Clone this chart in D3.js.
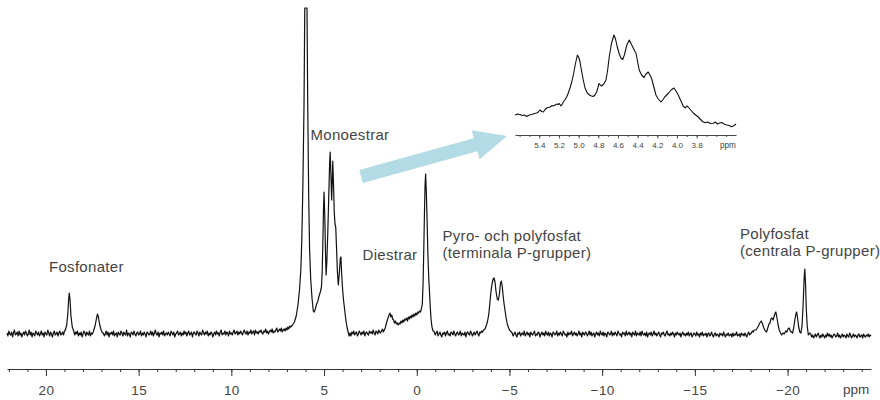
<!DOCTYPE html>
<html>
<head>
<meta charset="utf-8">
<script src="https://cdn.jsdelivr.net/npm/d3@7/dist/d3.min.js"></script>
<style>
  html, body { margin: 0; padding: 0; background: #fff; }
  svg { display: block; }
</style>
</head>
<body>
<svg id="chart" width="880" height="400"></svg>
<script>
// ---------------- DATA ----------------
// Signal regions of the main 31P spectrum: [ppm, intensity] (clipped at 326)
const peakPoints = [
[18.95,4],[18.88,9],[18.82,20],[18.77,36],[18.74,41],[18.70,34],[18.65,18],[18.58,7],[18.5,3],
[17.42,4],[17.35,8],[17.28,15],[17.22,20],[17.17,17],[17.1,9],[17.02,4],[16.95,1],
[6.7,9],[6.6,12],[6.5,18],[6.4,30],[6.32,45],[6.25,65],[6.2,94],[6.14,150],[6.08,230],[6.04,326],[5.92,326],[5.88,230],[5.83,140],[5.78,85],[5.72,55],[5.65,36],[5.58,23],[5.53,22],
[5.47,25],[5.4,30],[5.33,33],[5.27,38],[5.2,42],[5.14,47],[5.1,62],[5.06,95],[5.03,125],[5.0,142],[4.96,118],[4.92,80],[4.89,59],[4.85,72],[4.8,100],[4.75,135],[4.7,170],[4.67,182],[4.63,160],[4.59,134],[4.56,150],[4.53,173],[4.49,150],[4.45,122],[4.41,110],[4.37,107],[4.33,88],[4.28,62],[4.23,49],[4.17,62],[4.12,76],[4.09,77],[4.05,60],[4.0,45],[3.95,34],[3.9,26],[3.85,18],[3.8,11],[3.75,6],[3.7,2],[3.65,-2],
[1.62,12],[1.55,16],[1.5,19],[1.44,21],[1.4,17],[1.35,19],[1.3,15],[1.25,14],[1.2,11],[1.15,13],[1.1,10],[1.05,11],[1.0,9],[0.95,11],[0.9,10],[0.85,13],[0.8,11],[0.75,14],[0.7,12],[0.65,15],[0.6,14],[0.55,16],[0.5,13],[0.45,17],[0.4,15],[0.35,18],[0.3,16],[0.25,19],[0.2,17],[0.15,20],[0.1,18],[0.05,21],[0.0,19],[-0.05,22],[-0.1,21],[-0.15,23],[-0.2,22],[-0.25,25],
[-0.3,30],[-0.34,50],[-0.38,85],[-0.42,125],[-0.45,150],[-0.48,160],[-0.51,145],[-0.55,120],[-0.6,80],[-0.65,55],[-0.68,45],[-0.72,30],[-0.77,15],[-0.82,7],[-0.88,3],
[-3.68,5],[-3.76,9],[-3.82,13],[-3.88,19],[-3.94,30],[-4.0,42],[-4.06,50],[-4.12,55],[-4.17,56],[-4.22,52],[-4.28,42],[-4.34,35],[-4.4,34],[-4.46,40],[-4.51,50],[-4.56,53],[-4.61,48],[-4.66,38],[-4.71,30],[-4.76,24],[-4.82,16],[-4.88,10],[-4.94,7],[-5.0,4],[-5.1,2],
[-18.3,4],[-18.4,7],[-18.5,11],[-18.58,13],[-18.65,10],[-18.72,6],[-18.8,3],[-18.87,2],[-18.93,6],[-19.0,10],[-19.05,11],[-19.1,15],[-19.16,16],[-19.22,14],[-19.28,18],[-19.33,21],[-19.37,22],[-19.42,17],[-19.48,10],[-19.55,4],[-19.62,1],[-19.68,-1],[-19.75,1],[-19.82,0],[-19.9,3],[-19.96,2],[-20.02,5],[-20.09,6],[-20.15,3],[-20.21,2],[-20.27,1],[-20.33,6],[-20.39,14],[-20.45,20],[-20.49,22],[-20.54,16],[-20.6,7],[-20.66,2],[-20.72,1],[-20.78,8],[-20.84,30],[-20.9,58],[-20.93,65],[-20.97,50],[-21.01,25],[-21.06,8],[-21.12,-1],[-21.2,1]
];

// Baseline (noise) stretches, read every 0.05 ppm starting at "from"
const baselineStep = 0.05;
const baselineFrom = [22.1, 18.45, 16.9, 3.6, -0.95, -5.15, -21.25];
const baselineA = [1,-2,3,0,-1,2,-3,1,4,-1,0,2,-2,3,-1,1,-3,0,2,-1,3,1,-2,0,4,-1,2,-3,1,0,-2,3,1,-1,2,-2,0,3,-1,1,-3,2,0,-1,4,1,-2,2,0,-3,1,3,-1,0,2,-2,1,3,-1,0,2,-1,3];
const baselineB = [-1,2,0,3,-2,1,-1,2,-3,0,3,1,-2,2,0,-1,3,-2,1,0,2];
const baselineC = [
1,-2,0,3,-1,2,-3,1,0,2, -1,3,-2,0,1,-3,2,0,-1,3, 1,-2,2,0,-1,4,-2,1,0,-3, 2,1,-1,3,0,-2,1,2,-1,0,
3,-2,1,-1,2,0,-3,2,1,-1, 0,3,-1,2,-2,1,4,0,-1,2, -3,1,0,2,-1,3,-2,0,1,-1, 2,0,-2,3,1,-1,2,-3,0,1,
3,-1,0,2,-2,1,-1,3,0,2, -2,1,3,-1,0,2,-3,1,2,0, -1,3,1,-2,2,0,-1,4,1,-1, 2,0,3,-2,1,-1,2,1,-3,0,
2,-1,3,0,1,-2,2,4,-1,1, 0,3,-1,2,1,-2,3,0,1,-1, 2,4,0,1,3,-1,2,0,3,1, -1,2,4,1,0,3,-1,2,1,4,
0,2,3,-1,4,1,2,0,3,2, 4,1,0,3,2,5,1,3,0,2, 4,2,5,1,3,2,4,6,2,3, 5,3,6,2,4,5,3,6,4,7, 5,8,7];
const baselineD = [1,-2,2,0,3,-1,1,2,-2,0,3,1,-1,2,0,3,-2,1,2,0,-1,3,1,2,0,4,1,-1,3,2,0,4,2,1,3,5,2,4,6];
const baselineE = [2,-1,1,3,-2,0,2,-1,-3,1,0,2,-2,1,3,-1,0,-2,2,1,-1,3,0,-2,1,2,-1,0,3,-2,1,0,-1,2,-3,1,2,0,-1,3,1,-2,0,2,-1,1,3,0,-2,2,1,3,2,4];
const baselineF = [
1,-2,0,2,-1,-3,1,0,2,-2, 0,1,-1,3,-2,0,2,-1,1,-3, 2,0,-1,1,3,-2,0,-1,2,1, -3,0,2,-1,1,-2,3,0,-1,2,
-2,1,0,-3,2,1,-1,0,3,-2, 1,-1,2,0,-2,3,1,-1,0,-3, 2,-1,1,0,3,-2,0,2,-1,1, -2,0,3,-1,1,-3,2,0,-1,2,
1,-2,0,3,-1,2,-2,0,1,-3, 0,2,-1,1,-2,3,0,-1,2,-2, 1,0,-3,2,1,-1,0,3,-2,1, -1,2,0,-2,3,1,-1,0,-3,2,
0,1,-2,3,-1,0,2,-1,1,-3, 2,0,-1,3,-2,1,0,-1,2,-2, 3,0,-1,1,-2,2,-3,0,1,-1, 2,-2,0,3,-1,1,-2,0,2,-1,
-3,1,0,2,-1,-2,1,3,-1,0, -2,1,-1,2,0,-3,1,-1,2,0, -1,1,-3,0,2,-1,0,-2,1,-1, 2,-2,0,1,-3,-1,1,0,-2,2,
-1,0,-3,1,-1,2,-2,0,-1,1, -3,0,1,-2,-1,2,-1,-3,0,1, -2,0,-1,-3,1,-1,0,-2,2,-1, -3,0,-1,1,-2,-1,0,-3,1,-2,
0,-1,2,-2,-1,0,-3,1,-1,0, -2,1,-1,-3,0,2,-1,0,1,3, 2,4];
const baselineG = [0,-3,-1,-4,-2,0,-3,-1,1,-2,-4,-1,-3,0,-2,-4,-1,-3,1,-2,0,-3,-1,-4,-2,0,-1,-3,-2,1,-3,-1,-4,-2,0,-3,-1,-2,-4,0,-2,-3,1,-1,-4,-2,0,-3,-1,-2,-4,-1,0,-3,-2,-1,-4,0,-2,-3,-1,-2,0,-3,-1,-2];

// Inset (monoester region expanded): [ppm, intensity]
const inset = [
[5.647,20],[5.62,21],[5.596,20.5],[5.57,19.5],[5.55,20],[5.528,18.5],[5.5,20],[5.477,20.5],[5.45,21.5],[5.426,22],[5.41,23],[5.393,25],[5.375,23.5],[5.359,23],[5.34,25.5],[5.325,27],[5.309,27.5],[5.29,28],[5.27,29.5],[5.258,29],[5.24,30],[5.22,31],[5.207,30.5],[5.195,31.5],[5.18,29],[5.165,31],[5.156,33],[5.14,35],[5.122,38],[5.105,42],[5.088,47],[5.07,53],[5.054,60],[5.035,70],[5.013,80],[5.0,78],[4.986,73],[4.97,64],[4.953,55],[4.935,47],[4.912,42],[4.89,40],[4.87,39],[4.851,38.5],[4.835,40],[4.817,43],[4.805,47],[4.793,51.5],[4.78,50],[4.766,49],[4.745,51],[4.722,55],[4.705,65],[4.689,78],[4.665,92],[4.641,100],[4.625,96],[4.607,88],[4.59,82],[4.57,77],[4.552,75.5],[4.535,80],[4.51,90],[4.485,95],[4.465,91],[4.445,87],[4.43,84],[4.417,82],[4.40,73],[4.384,65],[4.36,60],[4.336,57.5],[4.315,61],[4.292,63],[4.275,60],[4.258,56.5],[4.235,48],[4.214,40],[4.19,36],[4.163,33],[4.145,35],[4.125,38],[4.105,40],[4.085,42],[4.06,45],[4.031,47],[4.01,44],[3.987,40],[3.96,34],[3.937,29],[3.915,27],[3.9,29],[3.886,28],[3.86,25],[3.835,22],[3.81,20],[3.784,18],[3.76,15.5],[3.74,13.5],[3.716,12.3],[3.69,13],[3.66,11.5],[3.632,11.7],[3.61,13],[3.59,11],[3.565,12],[3.546,12.5],[3.52,11],[3.496,10],[3.47,9.5],[3.445,8.3],[3.42,9.5],[3.40,11]
];

const mainMinorTicks = d3.range(22, -25, -1);
const mainMajorTicks = [20, 15, 10, 5, 0, -5, -10, -15, -20];
const insetMinorTicks = d3.range(56, 34, -1).map(v => v / 10);
const insetMajorTicks = [5.4, 5.2, 5.0, 4.8, 4.6, 4.4, 4.2, 4.0, 3.8];
const axisUnit = "ppm";
const peakLabels = [
  ["Fosfonater"],
  ["Monoestrar"],
  ["Diestrar"],
  ["Pyro- och polyfosfat", "(terminala P-grupper)"],
  ["Polyfosfat", "(centrala P-grupper)"]
];

// ---------------- ASSEMBLE ----------------
const baselineSets = [baselineA, baselineB, baselineC, baselineD, baselineE, baselineF, baselineG];
const spectrum = peakPoints.slice();
baselineSets.forEach((vals, k) => {
  vals.forEach((v, i) => spectrum.push([+(baselineFrom[k] - i * baselineStep).toFixed(3), v]));
});
spectrum.sort((a, b) => b[0] - a[0]);

// ---------------- LAYOUT ----------------
const svg = d3.select("#chart");
const FONT = "'Liberation Sans', Arial, Helvetica, sans-serif";
const TEXT = "#444";

const x = d3.scaleLinear().domain([22.1, -24.5]).range([7, 871]);
const y = d3.scaleLinear().domain([0, 326]).range([334, 8]);
const axisY = 369;

svg.append("path")
  .datum(spectrum)
  .attr("fill", "none")
  .attr("stroke", "#111")
  .attr("stroke-width", 1.2)
  .attr("stroke-linejoin", "round")
  .attr("d", d3.line().x(d => x(d[0])).y(d => y(d[1])));

// main axis
const gMinor = svg.append("g").attr("transform", `translate(0,${axisY})`)
  .call(d3.axisBottom(x).tickValues(mainMinorTicks).tickSize(3).tickSizeOuter(0).tickFormat(""));
const gMajor = svg.append("g").attr("transform", `translate(0,${axisY})`)
  .call(d3.axisBottom(x).tickValues(mainMajorTicks).tickSize(7).tickSizeOuter(0).tickPadding(9).tickFormat(d3.format("d")));
[gMinor, gMajor].forEach(g => {
  g.selectAll("path.domain").attr("stroke", "#333").attr("stroke-width", 1);
  g.selectAll(".tick line").attr("stroke", "#333").attr("stroke-width", 1);
});
gMinor.select("path.domain").remove();
gMajor.selectAll(".tick text")
  .attr("fill", TEXT).attr("font-family", FONT).attr("font-size", 13.5)
  .attr("letter-spacing", "0.4px");
svg.append("text").text(axisUnit)
  .attr("x", 843).attr("y", 394)
  .attr("fill", TEXT).attr("font-family", FONT).attr("font-size", 13.5);

// labels
const labelPos = [
  [49, 272], [310.5, 140], [362.5, 260], [442.5, 240.5], [740, 238.5]
];
const lineGap = 17;
peakLabels.forEach((lines, i) => {
  const t = svg.append("text")
    .attr("x", labelPos[i][0]).attr("y", labelPos[i][1])
    .attr("fill", TEXT).attr("font-family", FONT).attr("font-size", 15)
    .attr("letter-spacing", "0.3px");
  lines.forEach((s, j) => {
    t.append("tspan").attr("x", labelPos[i][0]).attr("dy", j === 0 ? 0 : lineGap).text(s);
  });
});

// arrow (annotation)
(function () {
  const T = [361, 176.5], tip = [507, 136];
  const dx = tip[0] - T[0], dy = tip[1] - T[1];
  const L = Math.hypot(dx, dy);
  const u = [dx / L, dy / L], n = [-u[1], u[0]];
  const hw = 6.7, hh = 15.1, b = L - 32.6;
  const p = (a, s) => [T[0] + u[0] * a + n[0] * s, T[1] + u[1] * a + n[1] * s];
  const pts = [p(0, -hw), p(b, -hw), p(b, -hh), tip, p(b, hh), p(b, hw), p(0, hw)];
  svg.append("polygon")
    .attr("points", pts.map(q => q.join(",")).join(" "))
    .attr("fill", "#b3dbe6");
})();

// inset
const xi = d3.scaleLinear().domain([5.647, 3.40]).range([515, 736]);
const yi = d3.scaleLinear().domain([0, 100]).range([135, 35]);
svg.append("path")
  .datum(inset)
  .attr("fill", "none")
  .attr("stroke", "#111")
  .attr("stroke-width", 1.1)
  .attr("stroke-linejoin", "round")
  .attr("d", d3.line().x(d => xi(d[0])).y(d => yi(d[1])));

const giMinor = svg.append("g").attr("transform", "translate(0,135)")
  .call(d3.axisBottom(xi).tickValues(insetMinorTicks).tickSize(2).tickSizeOuter(0).tickFormat(""));
const giMajor = svg.append("g").attr("transform", "translate(0,135)")
  .call(d3.axisBottom(xi).tickValues(insetMajorTicks).tickSize(3.5).tickSizeOuter(0).tickPadding(4).tickFormat(d3.format(".1f")));
[giMinor, giMajor].forEach(g => {
  g.selectAll("path.domain").attr("stroke", "#333").attr("stroke-width", 0.9);
  g.selectAll(".tick line").attr("stroke", "#333").attr("stroke-width", 0.8);
});
giMinor.select("path.domain").remove();
giMajor.selectAll(".tick text")
  .attr("fill", TEXT).attr("font-family", FONT).attr("font-size", 8);
svg.append("text").text(axisUnit)
  .attr("x", 720).attr("y", 148.3)
  .attr("fill", TEXT).attr("font-family", FONT).attr("font-size", 8.2);
</script>
</body>
</html>
